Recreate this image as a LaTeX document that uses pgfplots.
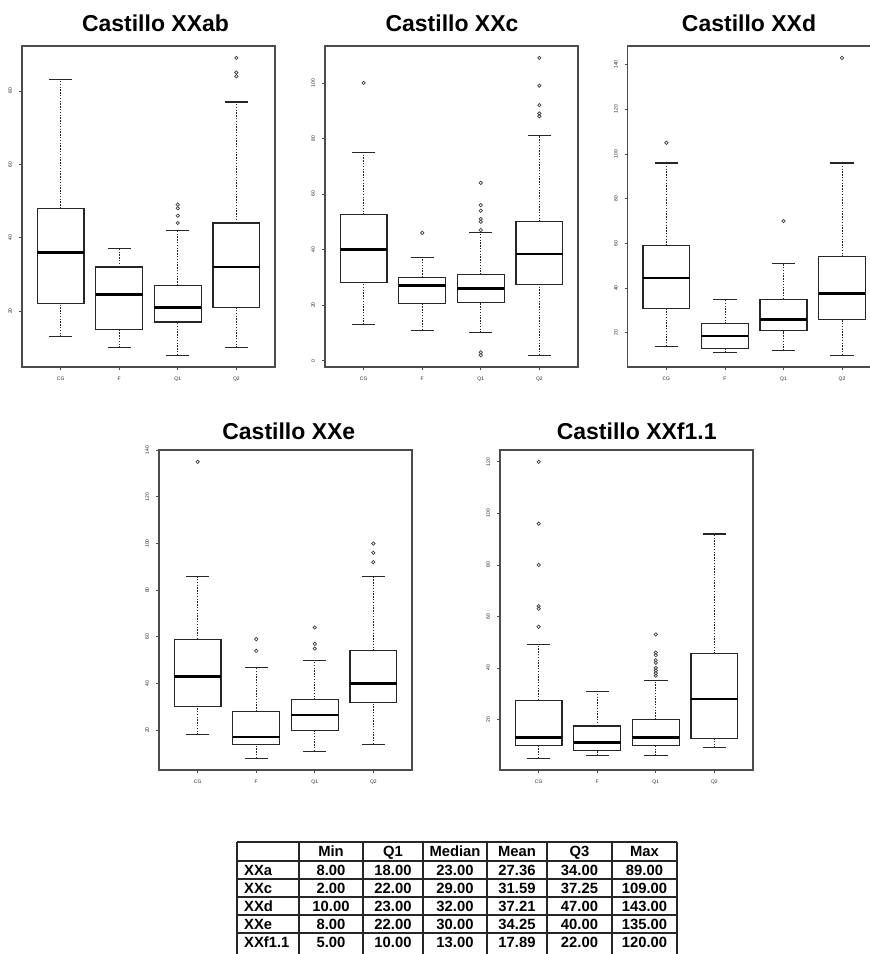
\documentclass[border=0pt]{standalone}
\usepackage{pgfplots}
\pgfplotsset{compat=1.18}
\usepgfplotslibrary{statistics}
\usepackage{fontspec}
\setmainfont{Liberation Sans}
\pgfplotsset{
  rbox/.style={
    scale only axis, width=253pt, height=321pt,
    xmin=0.34, xmax=4.66,
    xtick={1,2,3,4}, xticklabels={CG,F,Q1,Q2},
    xtick pos=left, ytick pos=left,
    tick align=outside, major tick length=3pt,
    axis line style={black!70, line width=1.2pt},
    every tick/.style={black!70, line width=0.7pt},
    tick label style={font=\fontsize{5}{6}\selectfont, text=black!85},
    yticklabel style={rotate=90, anchor=south},
    xticklabel shift=3.5pt, yticklabel shift=3.5pt,
    /pgf/number format/assume math mode=true,
    clip=false,
    boxplot/draw direction=y,
    boxplot/box extend=0.8,
    boxplot/whisker extend=0.4,
    boxplot/every box/.style={draw=black!85, line width=1.2pt},
    boxplot/every median/.style={draw=black, line width=2.4pt},
    boxplot/draw/lower whisker/.code={%
      \draw[black!85, line width=0.75pt, dash pattern=on 1.4pt off 1.4pt]
        (boxplot box cs:\pgfplotsboxplotvalue{lower whisker},0.5) --
        (boxplot box cs:\pgfplotsboxplotvalue{lower quartile},0.5);
      \draw[black!85, line width=1.2pt]
        (boxplot whisker cs:\pgfplotsboxplotvalue{lower whisker},0) --
        (boxplot whisker cs:\pgfplotsboxplotvalue{lower whisker},1);
    },
    boxplot/draw/upper whisker/.code={%
      \draw[black!85, line width=0.75pt, dash pattern=on 1.4pt off 1.4pt]
        (boxplot box cs:\pgfplotsboxplotvalue{upper quartile},0.5) --
        (boxplot box cs:\pgfplotsboxplotvalue{upper whisker},0.5);
      \draw[black!85, line width=1.2pt]
        (boxplot whisker cs:\pgfplotsboxplotvalue{upper whisker},0) --
        (boxplot whisker cs:\pgfplotsboxplotvalue{upper whisker},1);
    },
  },
  outl/.style={only marks, mark=o, mark size=1.7pt, draw=black!75, mark options={line width=0.7pt}},
}
\begin{document}
\begin{tikzpicture}[x=1pt,y=1pt]
\useasboundingbox (0,0) rectangle (870,954);
\clip (0,0) rectangle (870,954);
\fill[white] (0,0) rectangle (870,954);

% ---------- Panel 1: XXab
\begin{axis}[rbox, at={(22pt,587pt)}, anchor=south west,
  ymin=4.76, ymax=92.24, ytick={20,40,60,80}]
\addplot[boxplot prepared={draw position=1, lower whisker=13, lower quartile=22, median=36, upper quartile=48, upper whisker=83}] coordinates {};
\addplot[boxplot prepared={draw position=2, lower whisker=10, lower quartile=15, median=24.5, upper quartile=32, upper whisker=37}] coordinates {};
\addplot[boxplot prepared={draw position=3, lower whisker=8, lower quartile=17, median=21, upper quartile=27, upper whisker=42}] coordinates {};
\addplot[boxplot prepared={draw position=4, lower whisker=10, lower quartile=21, median=32, upper quartile=44, upper whisker=77}] coordinates {};
\addplot[outl] coordinates {(3,44) (3,46) (3,48) (3,49) (4,84) (4,85) (4,89)};
\end{axis}

% ---------- Panel 2: XXc
\begin{axis}[rbox, at={(325pt,587pt)}, anchor=south west,
  ymin=-2.28, ymax=113.28, ytick={0,20,40,60,80,100}]
\addplot[boxplot prepared={draw position=1, lower whisker=13, lower quartile=28, median=40, upper quartile=52.5, upper whisker=75}] coordinates {};
\addplot[boxplot prepared={draw position=2, lower whisker=11, lower quartile=20.5, median=27, upper quartile=30, upper whisker=37}] coordinates {};
\addplot[boxplot prepared={draw position=3, lower whisker=10, lower quartile=21, median=26, upper quartile=31, upper whisker=46}] coordinates {};
\addplot[boxplot prepared={draw position=4, lower whisker=2, lower quartile=27.5, median=38.5, upper quartile=50, upper whisker=81}] coordinates {};
\addplot[outl] coordinates {(1,100) (2,46) (3,2) (3,3) (3,47) (3,50) (3,51) (3,54) (3,56) (3,64) (4,88) (4,89) (4,92) (4,99) (4,109)};
\end{axis}

% ---------- Panel 3: XXd
\begin{axis}[rbox, at={(627.7pt,587pt)}, anchor=south west,
  ymin=4.68, ymax=148.32, ytick={20,40,60,80,100,120,140}]
\addplot[boxplot prepared={draw position=1, lower whisker=14, lower quartile=31, median=44.5, upper quartile=59, upper whisker=96}] coordinates {};
\addplot[boxplot prepared={draw position=2, lower whisker=11, lower quartile=13, median=18.5, upper quartile=24, upper whisker=35}] coordinates {};
\addplot[boxplot prepared={draw position=3, lower whisker=12, lower quartile=21, median=26, upper quartile=35, upper whisker=51}] coordinates {};
\addplot[boxplot prepared={draw position=4, lower whisker=10, lower quartile=26, median=37.5, upper quartile=54, upper whisker=96}] coordinates {};
\addplot[outl] coordinates {(1,105) (3,70) (4,143)};
\end{axis}

% ---------- Panel 4: XXe
\begin{axis}[rbox, height=320pt, at={(159pt,184pt)}, anchor=south west,
  ymin=2.92, ymax=140.08, ytick={20,40,60,80,100,120,140}]
\addplot[boxplot prepared={draw position=1, lower whisker=18, lower quartile=30, median=43, upper quartile=59, upper whisker=86}] coordinates {};
\addplot[boxplot prepared={draw position=2, lower whisker=8, lower quartile=14, median=17, upper quartile=28, upper whisker=47}] coordinates {};
\addplot[boxplot prepared={draw position=3, lower whisker=11, lower quartile=20, median=26.5, upper quartile=33, upper whisker=50}] coordinates {};
\addplot[boxplot prepared={draw position=4, lower whisker=14, lower quartile=32, median=40, upper quartile=54, upper whisker=86}] coordinates {};
\addplot[outl] coordinates {(1,135) (2,54) (2,59) (3,55) (3,57) (3,64) (4,92) (4,96) (4,100)};
\end{axis}

% ---------- Panel 5: XXf1.1
\begin{axis}[rbox, height=320pt, at={(500pt,184pt)}, anchor=south west,
  ymin=0.4, ymax=124.6, ytick={20,40,60,80,100,120}]
\addplot[boxplot prepared={draw position=1, lower whisker=5, lower quartile=10, median=13, upper quartile=27.5, upper whisker=49}] coordinates {};
\addplot[boxplot prepared={draw position=2, lower whisker=6, lower quartile=8, median=11, upper quartile=17.5, upper whisker=31}] coordinates {};
\addplot[boxplot prepared={draw position=3, lower whisker=6, lower quartile=10, median=13, upper quartile=20, upper whisker=35}] coordinates {};
\addplot[boxplot prepared={draw position=4, lower whisker=9, lower quartile=12.5, median=28, upper quartile=45.5, upper whisker=92}] coordinates {};
\addplot[outl] coordinates {(1,56) (1,63) (1,64) (1,80) (1,96) (1,120) (3,37) (3,38) (3,39) (3,40) (3,42) (3,43) (3,45) (3,46) (3,53)};
\end{axis}

% ---------- Titles
\begin{scope}[every node/.style={font=\bfseries\fontsize{23}{26}\selectfont, anchor=base, inner sep=0pt}]
\node at (155.5,922.3) {Castillo XXab};
\node at (452,922.3) {Castillo XXc};
\node at (749,922.3) {Castillo XXd};
\node at (288.8,514.7) {Castillo XXe};
\node at (636.7,514.7) {Castillo XXf1.1};
\end{scope}

% ---------- Summary table (bottom edge cut by the picture border)
\begin{scope}[line width=1.5pt, black!85]
\foreach \yy in {112,93,75,57,39,21} \draw (237,\yy) -- (677,\yy);
\foreach \xx in {237,299,363,423,487,547,612,677} \draw (\xx,112) -- (\xx,-2);
\end{scope}
\begin{scope}[every node/.style={font=\bfseries\fontsize{14.8}{16}\selectfont, anchor=base, inner sep=0pt}]
\foreach \t [count=\i] in {Min,Q1,Median,Mean,Q3,Max}
  \node at ({\ifcase\i\or331\or393\or455\or517\or579.5\or644.5\fi},97.8) {\t};
\node[anchor=base west] at (244,78.7) {XXa};
\node[anchor=base west] at (244,60.7) {XXc};
\node[anchor=base west] at (244,42.7) {XXd};
\node[anchor=base west] at (244,24.7) {XXe};
\node[anchor=base west] at (244,6.7) {XXf1.1};
\foreach \a/\b/\c/\d/\e/\f/\yy in {
  8.00/18.00/23.00/27.36/34.00/89.00/78.7,
  2.00/22.00/29.00/31.59/37.25/109.00/60.7,
  10.00/23.00/32.00/37.21/47.00/143.00/42.7,
  8.00/22.00/30.00/34.25/40.00/135.00/24.7,
  5.00/10.00/13.00/17.89/22.00/120.00/6.7}{
  \node at (331,\yy) {\a};
  \node at (393,\yy) {\b};
  \node at (455,\yy) {\c};
  \node at (517,\yy) {\d};
  \node at (579.5,\yy) {\e};
  \node at (644.5,\yy) {\f};
}
\end{scope}
\end{tikzpicture}
\end{document}
